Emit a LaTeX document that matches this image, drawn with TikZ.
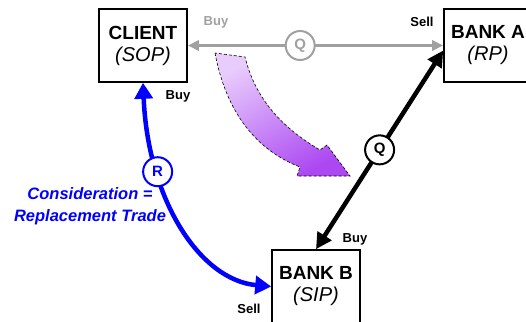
\documentclass[tikz,border=0pt]{standalone}
\usepackage{fontspec}
\setmainfont{Liberation Sans}
\usetikzlibrary{arrows.meta,positioning,calc}

\definecolor{repblue}{RGB}{0,0,255}
\definecolor{quotegray}{RGB}{160,160,160}
\definecolor{lilac}{RGB}{232,204,252}
\definecolor{deepviolet}{RGB}{172,72,242}

\begin{document}
\begin{tikzpicture}[
        x=1pt, y=-1pt,
        party/.style={rectangle, draw=black, line width=1.6pt, fill=white,
            minimum width=88pt, minimum height=73pt, align=center, inner sep=2pt,
            font=\fontsize{19}{20}\selectfont\bfseries},
        bubble/.style={circle, draw=#1, text=#1, fill=white, line width=2pt,
            minimum size=29pt, inner sep=0pt, font=\fontsize{15}{15}\selectfont\bfseries},
        quote/.style={{Triangle[length=16pt,width=16pt]}-{Triangle[length=16pt,width=16pt]},
            line width=4.5pt, draw=black},
        greyquote/.style={{Triangle[length=11pt,width=10pt]}-{Triangle[length=11pt,width=10pt]},
            line width=2.8pt, draw=quotegray},
        reptrade/.style={{Triangle[length=16pt,width=18pt]}-{Triangle[length=16pt,width=18pt]},
            line width=4.5pt, draw=repblue},
        side/.style={font=\fontsize{13}{13}\selectfont\bfseries, inner sep=0pt}
    ]
    \useasboundingbox (0,0) rectangle (526,321);

    % Parties
    \node[party] (client) at (143,45.5) {CLIENT\\[2pt]{\fontsize{20}{20}\selectfont\mdseries\itshape (SOP)}};
    \node[party] (banka) at (488,45.5) {BANK A\\[2pt]{\fontsize{20}{20}\selectfont\mdseries\itshape (RP)}};
    \node[party] (bankb) at (316,286.5) {BANK B\\[2pt]{\fontsize{20}{20}\selectfont\mdseries\itshape (SIP)}};

    % Big purple swoosh
    \path[left color=lilac, right color=deepviolet, shading angle=30,
          draw=black, line width=0.6pt, densely dashed]
        (215,53) .. controls (226,112) and (256,150) .. (300,167)
        -- (297,176) -- (350,176) -- (327,145) -- (320,150)
        .. controls (286,130) and (256,102) .. (245,57) -- cycle;

    % Quote legs
    \draw[greyquote] (banka.west) -- node[pos=.56, bubble=quotegray] (qtop) {Q} (client.east);
    \draw[quote] (bankb.north) -- node[bubble=black] (qdiag) {Q} ([yshift=-5pt]banka.west);

    % Replacement trade leg
    \draw[reptrade] (bankb.west) .. controls (200,280) and (148,200) .. (client.south)
        node[pos=.72, bubble=repblue] (rcirc) {R};

    % Side labels
    \node[side, text=quotegray] (buytop) at (216,22) {Buy};
    \node[side] (sella) at (422,22) {Sell};
    \node[side] (buyclient) at (178,96) {Buy};
    \node[side] (buyb) at (355,239) {Buy};
    \node[side] (sellb) at (249,309) {Sell};

    % Consideration note
    \node[align=center, text=repblue, font=\fontsize{16.5}{22}\selectfont\bfseries\itshape]
        (consid) at (90,206) {Consideration =\\Replacement Trade};
\end{tikzpicture}
\end{document}
